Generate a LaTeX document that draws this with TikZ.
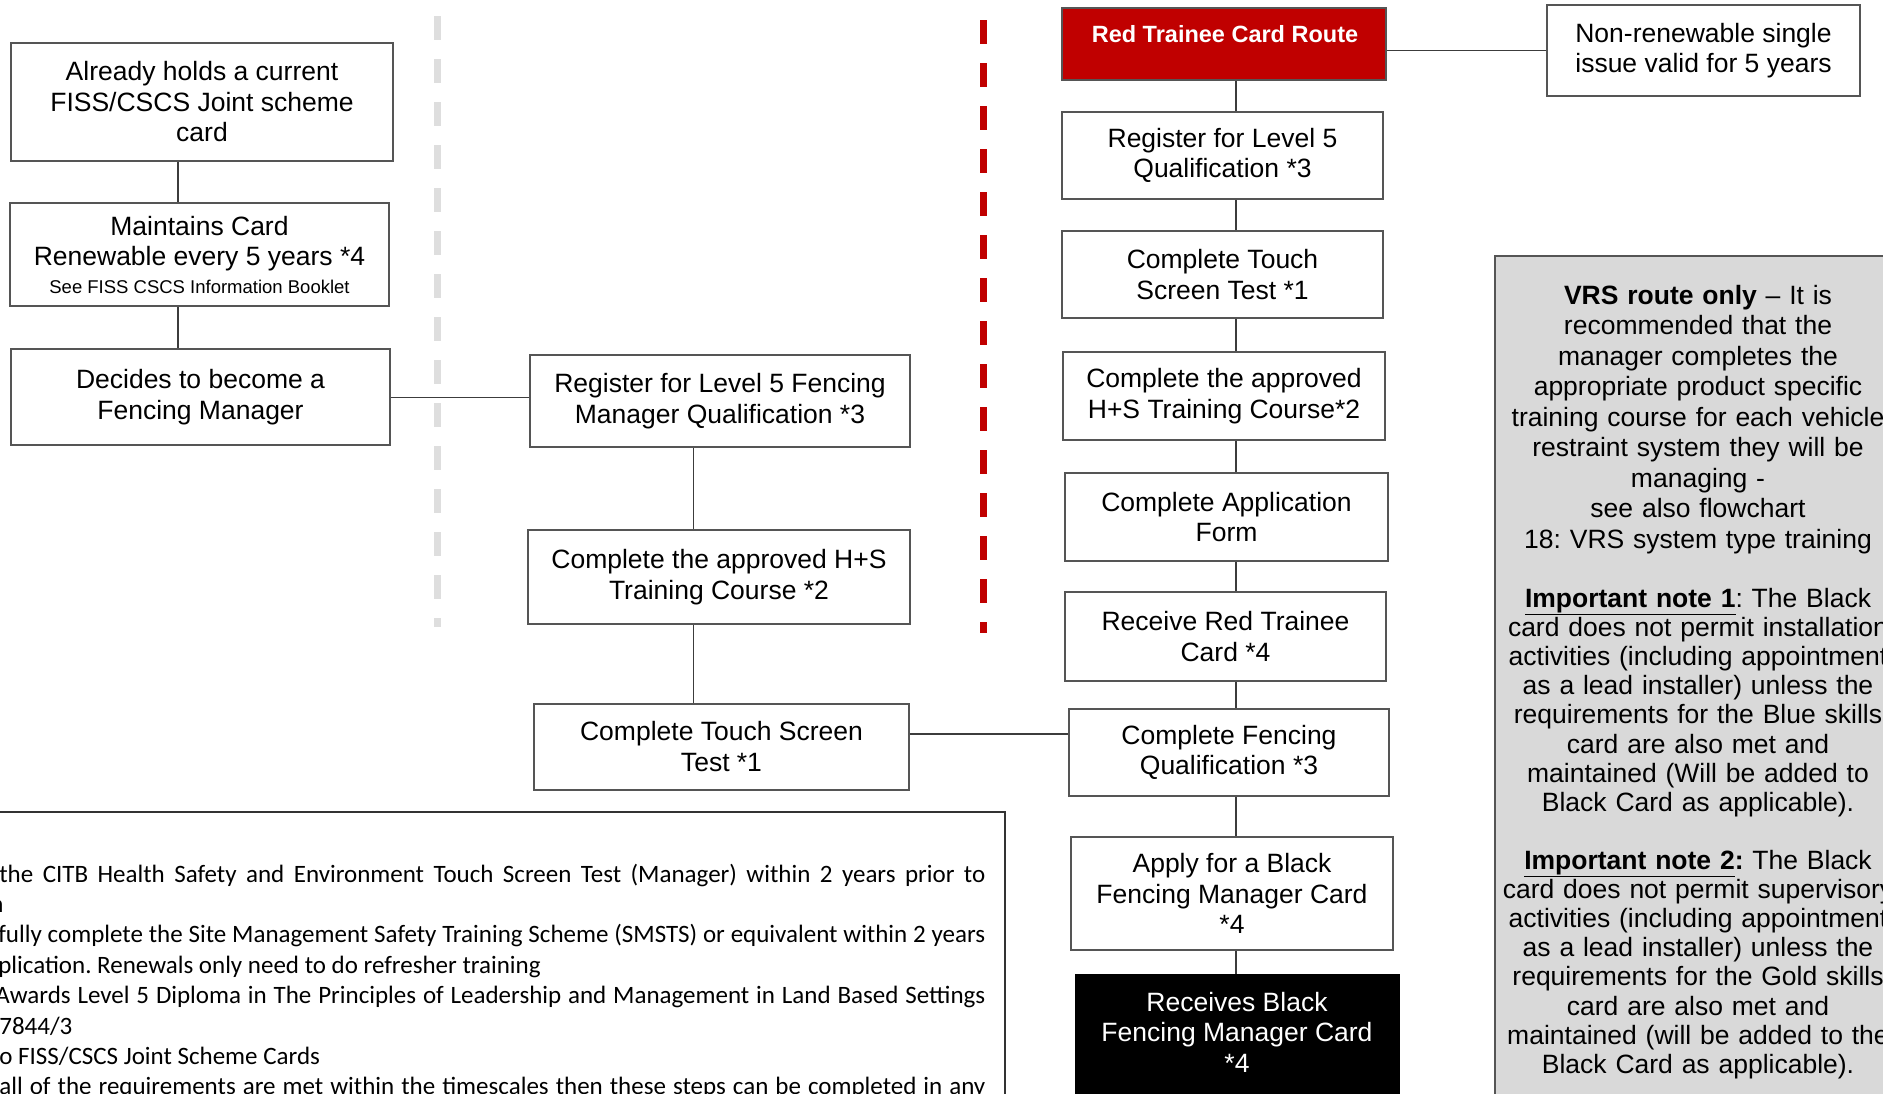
\documentclass[tikz,border=0pt]{standalone}
\usepackage{fontspec}
\setmainfont{Liberation Sans}
\newfontfamily\notefont{Carlito}

\definecolor{cardred}{RGB}{192,0,0}
\definecolor{boxline}{RGB}{85,85,85}
\definecolor{linkgrey}{RGB}{60,60,60}
\definecolor{vrsgrey}{RGB}{217,217,217}
\definecolor{divgrey}{RGB}{222,222,222}

\newcommand{\boxfont}{\fontsize{26.5}{30.5}\selectfont}
\newcommand{\smallboxfont}{\fontsize{18.5}{22}\selectfont}
\newcommand{\titlefont}{\fontsize{23.5}{27}\selectfont\bfseries}
\newcommand{\notesize}{\fontsize{25}{30.4}\selectfont\notefont}

\tikzset{every picture/.style={line width=0.75pt}}
\tikzset{
  stepbox/.style={draw=boxline, line width=2pt, fill=white, align=center, inner sep=0pt, font=\boxfont},
  link/.style={draw=linkgrey, line width=1.8pt},
  notetext/.style={anchor=base west, inner sep=0pt, font=\notesize},
  divider/.style={line width=7pt, dash pattern=on 24pt off 19pt},
}

\begin{document}
\frenchspacing
\begin{tikzpicture}[x=1pt,y=1pt,yscale=-1,xscale=1]
\useasboundingbox (0,0) rectangle (1883,1093);

% Dividers
\draw [divider, divgrey] (437,16) -- (437,627);
\draw [divider, cardred] (983,20) -- (983,633);

% Notes panel
\draw [draw=black!80, line width=1.5pt] (-5,812) rectangle (1005,1110);
\node [notetext] (note1) at (-1,882) {\makebox[986pt][s]{the CITB Health Safety and Environment Touch Screen Test (Manager) within 2 years prior to}};
\node [notetext] (note2) at (-10,912.4) {n};
\node [notetext] (note3) at (-2,942.8) {\makebox[987pt][s]{fully complete the Site Management Safety Training Scheme (SMSTS) or equivalent within 2 years}};
\node [notetext] (note4) at (-2,973.2) {plication. Renewals only need to do refresher training};
\node [notetext] (note5) at (-5,1003.6) {\makebox[990pt][s]{Awards Level 5 Diploma in The Principles of Leadership and Management in Land Based Settings}};
\node [notetext] (note6) at (-1,1034) {7844/3};
\node [notetext] (note7) at (-1,1064.4) {o FISS/CSCS Joint Scheme Cards};
\node [notetext] (note8) at (-1,1094.8) {\makebox[986pt][s]{all of the requirements are met within the timescales then these steps can be completed in any}};

% VRS panel
\draw [draw=boxline, fill=vrsgrey, line width=1.8pt] (1495,256) rectangle (1900,1110);
\node [font=\boxfont, align=center, text width=420pt, inner sep=0pt, anchor=north] (vrs) at (1698,284.5) {%
{\bfseries VRS route only} – It is\\
recommended that the\\
manager completes the\\
appropriate product specific\\
training course for each vehicle\\
restraint system they will be\\
managing -\\
see also flowchart\\
18: VRS system type training\par
\fontsize{26.5}{29.2}\selectfont\vspace{29.8pt}
\underline{\bfseries Important note 1}: The Black\\
card does not permit installation\\
activities (including appointment\\
as a lead installer) unless the\\
requirements for the Blue skills\\
card are also met and\\
maintained (Will be added to\\
Black Card as applicable).\par
\vspace{28.5pt}
\underline{\bfseries Important note 2}{\bfseries :} The Black\\
card does not permit supervisory\\
activities (including appointment\\
as a lead installer) unless the\\
requirements for the Gold skills\\
card are also met and\\
maintained (will be added to the\\
Black Card as applicable).\par};

% Text Node
\node [stepbox, minimum width=382pt, minimum height=118pt] (held) at (202,102) {Already holds a current\\FISS/CSCS Joint scheme\\card};
% Text Node
\node [stepbox, minimum width=379pt, minimum height=103pt] (maintain) at (199.5,254.5) {Maintains Card\\Renewable every 5 years *4\\[-3pt]{\smallboxfont See FISS CSCS Information Booklet}};
% Text Node
\node [stepbox, minimum width=379pt, minimum height=96pt] (decide) at (200.5,397) {Decides to become a\\Fencing Manager};
% Text Node
\node [stepbox, minimum width=380pt, minimum height=92pt] (regfm) at (720,401) {Register for Level 5 Fencing\\Manager Qualification *3};
% Text Node
\node [stepbox, minimum width=382pt, minimum height=94pt] (hsm) at (719,577) {Complete the approved H+S\\Training Course *2};
% Text Node
\node [stepbox, minimum width=375pt, minimum height=86pt] (tstm) at (721.5,746.5) {Complete Touch Screen\\Test *1};

% Text Node
\node [stepbox, fill=cardred, minimum width=324pt, minimum height=72pt] (red) at (1224,44) {};
\node [font=\titlefont, text=white, inner sep=0pt] (redtitle) at (1225,33.6) {Red Trainee Card Route};
% Text Node
\node [stepbox, minimum width=313pt, minimum height=91pt] (nonrenew) at (1703.5,50.5) {Non-renewable single\\issue valid for 5 years};
% Text Node
\node [stepbox, minimum width=321pt, minimum height=87pt] (reg5) at (1222.5,155.5) {Register for Level 5\\Qualification *3};
% Text Node
\node [stepbox, minimum width=321pt, minimum height=87pt] (tsr) at (1222.5,274.5) {Complete Touch\\Screen Test *1};
% Text Node
\node [stepbox, minimum width=322pt, minimum height=88pt] (hsr) at (1224,396) {Complete the approved\\H+S Training Course*2};
% Text Node
\node [stepbox, minimum width=323pt, minimum height=88pt] (app) at (1226.5,517) {Complete Application\\Form};
% Text Node
\node [stepbox, minimum width=321pt, minimum height=89pt] (rcv) at (1225.5,636.5) {Receive Red Trainee\\Card *4};
% Text Node
\node [stepbox, minimum width=320pt, minimum height=87pt] (cfq) at (1229,752.5) {Complete Fencing\\Qualification *3};
% Text Node
\node [stepbox, minimum width=322pt, minimum height=113pt] (apply) at (1232,893.5) {Apply for a Black\\Fencing Manager Card\\*4};
% Text Node
\node [stepbox, fill=black, draw=black, minimum width=323pt, minimum height=135pt] (black) at (1237.5,1042.5) {};
\node [font=\boxfont, text=white, align=center, inner sep=0pt] (blacktext) at (1237,1032) {Receives Black\\Fencing Manager Card\\*4};

% Connection
\coordinate (lspine) at (178,0);
\coordinate (mspine) at (693.5,0);
\coordinate (rspine) at (1236,0);
\coordinate (dline) at (0,397.5);
\coordinate (tline) at (0,734);

% Connection
\draw [link] (held.south -| lspine) -- (maintain.north -| lspine);
\draw [link] (maintain.south -| lspine) -- (decide.north -| lspine);
\draw [link] (decide.east |- dline) -- (regfm.west |- dline);
% Connection
\draw [link] (regfm.south -| mspine) -- (hsm.north -| mspine);
\draw [link] (hsm.south -| mspine) -- (tstm.north -| mspine);
\draw [link] (tstm.east |- tline) -- (cfq.west |- tline);
% Connection
\draw [link] (nonrenew.west -| red.east) -- (nonrenew.west);
\draw [link] (red.south -| rspine) -- (reg5.north -| rspine);
\draw [link] (reg5.south -| rspine) -- (tsr.north -| rspine);
\draw [link] (tsr.south -| rspine) -- (hsr.north -| rspine);
\draw [link] (hsr.south -| rspine) -- (app.north -| rspine);
\draw [link] (app.south -| rspine) -- (rcv.north -| rspine);
\draw [link] (rcv.south -| rspine) -- (cfq.north -| rspine);
\draw [link] (cfq.south -| rspine) -- (apply.north -| rspine);
\draw [link] (apply.south -| rspine) -- (black.north -| rspine);

\end{tikzpicture}
\end{document}
